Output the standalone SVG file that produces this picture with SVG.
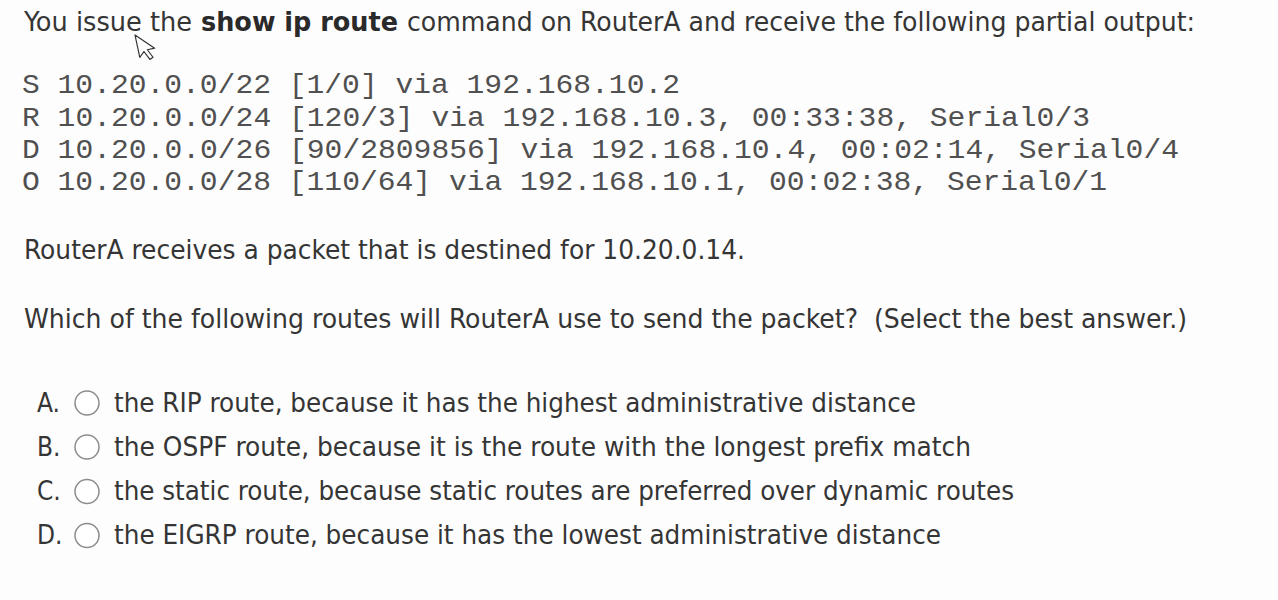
<svg xmlns="http://www.w3.org/2000/svg" width="1278" height="600" viewBox="0 0 1278 600">
<style>
.t{font-family:"DejaVu Sans Condensed","Liberation Sans",sans-serif;font-size:26px;fill:#353535}
.b{font-weight:bold;fill:#2a2a2a}
.m{font-family:"Liberation Mono","Courier New",monospace;font-size:28.5px;fill:#505050}
.opt{fill:#fff;stroke:#8c8c8c;stroke-width:1.5}
</style>
<rect width="1278" height="600" fill="#fdfdfd"/>
<g id="question">
<text class="t" x="24" y="30.5" textLength="168" lengthAdjust="spacingAndGlyphs">You issue the</text>
<text class="t b" x="201" y="30.5" textLength="197" lengthAdjust="spacingAndGlyphs">show ip route</text>
<text class="t" x="407" y="30.5" textLength="788" lengthAdjust="spacingAndGlyphs">command on RouterA and receive the following partial output:</text>
</g>
<g id="cursor">
<path d="M0,0 L0,23 L5.3,18 L9.5,27 L13,25.5 L9,17 L16.5,17 Z" transform="translate(135,35) rotate(-12)" fill="#fff" stroke="#333" stroke-width="1.2" stroke-linejoin="round"/>
</g>
<g id="routes">
<text class="m" x="22" y="93" textLength="658" lengthAdjust="spacingAndGlyphs">S 10.20.0.0/22 [1/0] via 192.168.10.2</text>
<text class="m" x="22" y="125.5" textLength="1068" lengthAdjust="spacingAndGlyphs">R 10.20.0.0/24 [120/3] via 192.168.10.3, 00:33:38, Serial0/3</text>
<text class="m" x="22" y="157.5" textLength="1157" lengthAdjust="spacingAndGlyphs">D 10.20.0.0/26 [90/2809856] via 192.168.10.4, 00:02:14, Serial0/4</text>
<text class="m" x="22" y="189.5" textLength="1085" lengthAdjust="spacingAndGlyphs">O 10.20.0.0/28 [110/64] via 192.168.10.1, 00:02:38, Serial0/1</text>
</g>
<g id="packet">
<text class="t" x="24" y="258.5" textLength="721" lengthAdjust="spacingAndGlyphs">RouterA receives a packet that is destined for 10.20.0.14.</text>
</g>
<g id="prompt">
<text class="t" x="24" y="327.5" textLength="1163" lengthAdjust="spacingAndGlyphs">Which of the following routes will RouterA use to send the packet?&#160; (Select the best answer.)</text>
</g>
<g id="optionA">
<text class="t" x="37" y="411.5">A.</text>
<circle class="opt" cx="87" cy="403" r="12"/>
<text class="t" x="114" y="411.5" textLength="802" lengthAdjust="spacingAndGlyphs">the RIP route, because it has the highest administrative distance</text>
</g>
<g id="optionB">
<text class="t" x="37" y="455.5">B.</text>
<circle class="opt" cx="87" cy="447" r="12"/>
<text class="t" x="114" y="455.5" textLength="857" lengthAdjust="spacingAndGlyphs">the OSPF route, because it is the route with the longest prefix match</text>
</g>
<g id="optionC">
<text class="t" x="37" y="500">C.</text>
<circle class="opt" cx="87" cy="491.5" r="12"/>
<text class="t" x="114" y="500" textLength="900" lengthAdjust="spacingAndGlyphs">the static route, because static routes are preferred over dynamic routes</text>
</g>
<g id="optionD">
<text class="t" x="37" y="544">D.</text>
<circle class="opt" cx="87" cy="535.5" r="12"/>
<text class="t" x="114" y="544" textLength="827" lengthAdjust="spacingAndGlyphs">the EIGRP route, because it has the lowest administrative distance</text>
</g>
</svg>
